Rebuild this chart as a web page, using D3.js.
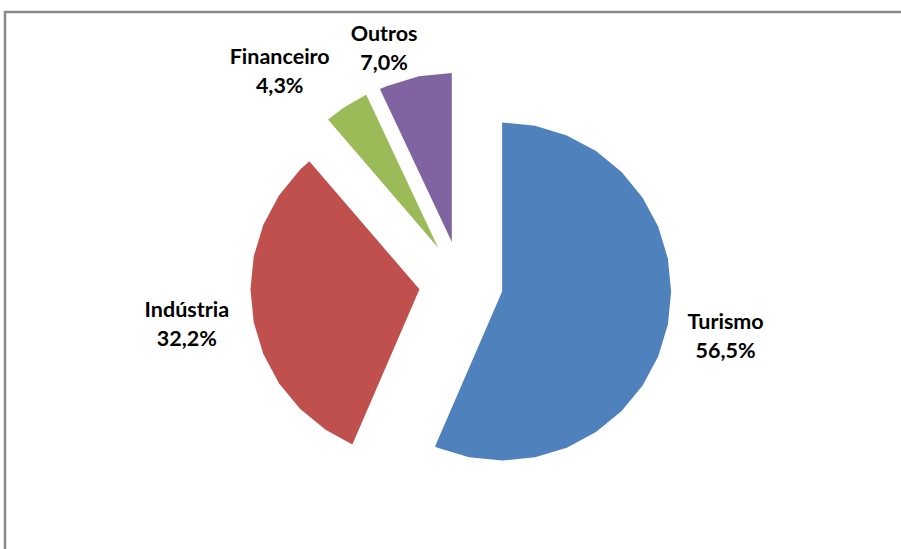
<!DOCTYPE html>
<html><head><meta charset="utf-8">
<script src="https://cdn.jsdelivr.net/npm/d3@7"></script>
<style>html,body{margin:0;padding:0;background:#fff;}svg{display:block;}</style>
</head><body>
<svg id="chart" width="901" height="549"></svg>
<script>
const categories = ["Turismo", "Indústria", "Financeiro", "Outros"];
const values = [56.5, 32.2, 4.3, 7.0];
const valueLabels = ["56,5%", "32,2%", "4,3%", "7,0%"];
const colors = ["#4F81BD", "#C0504D", "#9BBB59", "#8064A2"];

const W = 901, H = 549;
const cx = 461, cy = 283, R = 169, explode = 42;
const step = 2 * Math.PI / 32;
const labelGap = 21;
// small manual nudges for crowded labels (Excel-like collision avoidance)
const nudge = {"Financeiro": [-28, 5], "Outros": [-19, 18], "Indústria": [-3, 2]};

const svg = d3.select("#chart");
svg.append("rect").attr("x", 5).attr("y", 12).attr("width", W + 20).attr("height", H + 20)
  .attr("fill", "none").attr("stroke", "#8a8a8a").attr("stroke-width", 2.5);

const data = categories.map((c, i) => ({cat: c, value: values[i], label: valueLabels[i], color: colors[i]}));
const pie = d3.pie().value(d => d.value).sort(null);
const arcs = pie(data);

const g = svg.append("g").attr("transform", `translate(${cx},${cy})`);

function pt(a, r) { return [r * Math.sin(a), -r * Math.cos(a)]; }

arcs.forEach(a => {
  const mid = (a.startAngle + a.endAngle) / 2;
  const [ox, oy] = pt(mid, explode);
  const pts = [[0, 0], pt(a.startAngle, R)];
  let k = Math.floor(a.startAngle / step) + 1;
  while (k * step < a.endAngle - 1e-6) { pts.push(pt(k * step, R)); k++; }
  pts.push(pt(a.endAngle, R));
  g.append("path")
    .attr("transform", `translate(${ox},${oy})`)
    .attr("d", d3.line()(pts) + "Z")
    .attr("fill", a.data.color);

  // label
  const dx = Math.sin(mid), dy = -Math.cos(mid);
  const outer = [ox + R * dx, oy + R * dy];
  const t = g.append("text")
    .attr("font-family", "Lato, 'Open Sans', sans-serif")
    .attr("font-weight", 700)
    .attr("font-size", 21.5)
    .attr("fill", "#000")
    .attr("text-anchor", "middle");
  t.append("tspan").attr("x", 0).attr("y", 0).text(a.data.cat);
  t.append("tspan").attr("x", 0).attr("y", 29).text(a.data.label);
  const bb = t.node().getBBox();
  const hw = bb.width / 2, hh = bb.height / 2;
  const n = nudge[a.data.cat] || [0, 0];
  const lx = outer[0] + dx * labelGap + dx * hw + n[0];
  const ly = outer[1] + dy * labelGap + dy * hh + n[1];
  const bcy = bb.y + bb.height / 2;
  t.attr("transform", `translate(${lx},${ly - bcy})`);
});
</script>
</body></html>
